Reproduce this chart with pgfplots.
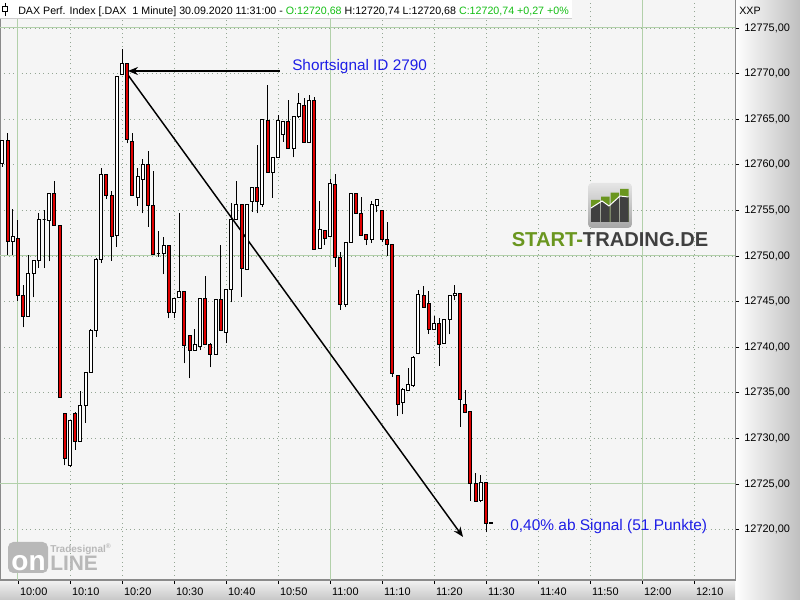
\documentclass[border=0pt]{standalone}
\usepackage{pgfplots}
\pgfplotsset{compat=1.18}
\usepackage{pgfplotstable}
\usetikzlibrary{arrows.meta}
\usepackage{fontspec}
\setmainfont{Liberation Sans}
\definecolor{plotbg}{HTML}{F5F5F5}
\definecolor{gridgreen}{HTML}{B2D0AA}
\definecolor{griddot}{HTML}{94A694}
\definecolor{candlered}{HTML}{E00000}
\definecolor{axgray}{HTML}{8A8A8A}
\definecolor{annblue}{RGB}{30,30,230}
\definecolor{hdrgreen}{RGB}{20,190,20}
\definecolor{logogreen}{HTML}{6A961F}
\definecolor{logogray}{HTML}{404040}
\definecolor{tsgray}{HTML}{B8B8B8}

% pt per price unit: 435pt / (12778.07-12714.47) = 6.83962
\pgfdeclareplotmark{candle}{%
  \pgfmathsetmacro{\wlx}{\wl}%
  \pgfmathsetmacro{\whx}{\wh}%
  \pgfmathsetmacro{\bhx}{\bh}%
  \pgfsetstrokecolor{black}\pgfsetlinewidth{0.75pt}%
  \pgfpathmoveto{\pgfpoint{0pt}{\wlx pt}}\pgfpathlineto{\pgfpoint{0pt}{\whx pt}}%
  \pgfusepathqstroke
  \ifdim\bhx pt<0pt \pgfsetfillcolor{candlered}\else\pgfsetfillcolor{white}\fi
  \pgfpathrectangle{\pgfpoint{-1.125pt}{0pt}}{\pgfpoint{2.25pt}{\bhx pt}}%
  \pgfusepathqfillstroke
}

\pgfplotstableread{
t O H L C
-3 12760.18 12762.62 12759.80 12762.62
-2 12762.62 12763.54 12750.12 12751.59
-1 12751.59 12755.13 12750.12 12752.10
0 12751.95 12753.96 12745.08 12745.67
1 12745.67 12746.80 12742.16 12743.40
2 12743.40 12750.10 12743.40 12748.11
3 12748.11 12749.54 12745.45 12749.54
4 12749.54 12754.69 12748.66 12754.04
5 12754.04 12755.06 12748.66 12754.04
6 12753.89 12756.89 12749.40 12756.89
7 12756.89 12758.24 12753.38 12753.38
8 12753.38 12753.38 12734.52 12734.52
9 12732.69 12732.69 12727.03 12727.83
10 12727.03 12732.00 12726.84 12732.00
11 12732.69 12732.84 12728.74 12729.69
12 12729.69 12735.21 12729.69 12733.57
13 12733.57 12737.26 12731.74 12737.26
14 12737.26 12741.97 12737.26 12741.79
15 12741.79 12749.80 12741.17 12749.65
16 12749.65 12759.63 12749.21 12758.97
17 12758.97 12758.97 12756.23 12756.63
18 12756.63 12757.14 12749.50 12752.13
19 12752.24 12769.73 12751.00 12769.73
20 12769.85 12772.66 12769.85 12771.13
21 12771.13 12771.13 12762.35 12762.72
22 12762.54 12763.45 12756.58 12756.58
23 12756.43 12759.61 12755.52 12758.70
24 12758.41 12760.64 12754.68 12760.05
25 12760.05 12761.51 12753.22 12755.59
26 12755.59 12759.32 12750.11 12750.11
27 12750.29 12752.74 12749.93 12750.29
28 12750.29 12752.12 12747.99 12751.20
29 12751.13 12751.13 12743.17 12743.82
30 12743.82 12745.29 12743.17 12745.29
31 12745.47 12754.68 12745.47 12746.13
32 12746.13 12746.13 12738.23 12740.13
33 12741.23 12741.23 12736.59 12739.69
34 12739.69 12741.96 12739.69 12740.24
35 12740.10 12745.36 12739.69 12745.36
36 12745.36 12747.81 12740.31 12740.31
37 12740.31 12740.50 12737.79 12739.15
38 12739.15 12745.25 12739.15 12745.25
39 12745.25 12751.20 12741.88 12741.88
40 12741.63 12746.35 12740.42 12746.35
41 12746.35 12755.85 12744.92 12754.02
42 12754.02 12758.22 12754.02 12755.67
43 12755.67 12755.67 12745.54 12748.65
44 12748.55 12755.67 12748.46 12755.67
45 12755.96 12757.53 12754.86 12757.53
46 12757.53 12762.17 12754.68 12755.96
47 12755.67 12764.99 12755.40 12764.99
48 12764.90 12768.75 12759.17 12759.17
49 12759.17 12760.82 12756.40 12760.82
50 12760.82 12765.46 12760.82 12764.91
51 12763.34 12764.80 12762.54 12764.80
52 12764.80 12767.10 12761.81 12761.81
53 12761.81 12765.28 12760.82 12765.28
54 12765.28 12767.84 12765.10 12766.74
55 12766.45 12767.29 12762.46 12762.46
56 12762.46 12767.65 12762.46 12767.10
57 12767.10 12767.47 12750.66 12750.66
58 12750.84 12756.03 12750.84 12752.92
59 12752.78 12752.78 12751.21 12751.94
60 12752.12 12758.41 12752.12 12757.97
61 12757.86 12758.96 12748.83 12749.85
62 12749.85 12750.48 12744.08 12744.70
63 12744.70 12751.50 12744.37 12751.50
64 12751.50 12756.90 12751.50 12756.80
65 12756.80 12756.80 12754.68 12754.68
66 12754.68 12756.50 12752.20 12752.20
67 12752.41 12752.41 12751.20 12751.76
68 12751.76 12756.07 12751.40 12755.60
69 12755.52 12756.14 12754.79 12756.14
70 12755.04 12755.04 12751.50 12751.76
71 12751.80 12753.69 12750.00 12751.28
72 12751.28 12751.28 12736.77 12737.13
73 12736.88 12736.88 12732.49 12733.73
74 12733.92 12735.50 12732.64 12735.31
75 12735.23 12737.68 12735.20 12735.93
76 12735.78 12739.00 12735.67 12738.89
77 12739.33 12746.27 12739.22 12745.80
78 12745.72 12746.71 12744.37 12744.37
79 12744.81 12746.16 12741.45 12741.89
80 12741.89 12743.42 12741.89 12742.62
81 12742.62 12743.24 12737.97 12740.32
82 12740.42 12743.05 12740.42 12743.05
83 12743.05 12745.65 12741.41 12745.65
84 12745.65 12746.82 12745.17 12745.90
85 12745.90 12745.90 12731.29 12734.21
86 12733.73 12735.30 12732.86 12732.86
87 12733.00 12733.00 12723.13 12725.07
88 12725.07 12726.24 12723.13 12723.13
89 12723.24 12725.98 12722.99 12725.15
90 12725.15 12725.15 12719.70 12720.68
91 12720.68 12720.74 12720.68 12720.74
}\candles

\begin{document}
\begin{tikzpicture}
\path[use as bounding box] (0,0) rectangle (600pt,450pt);
% side panels
\shade[left color=white, right color=black!25] (551.25pt,0pt) rectangle (600pt,450pt);
\shade[top color=black!5, bottom color=black!22] (0pt,0pt) rectangle (551.25pt,15pt);
\begin{axis}[
  at={(0pt,15pt)}, anchor=south west,
  scale only axis, width=551.25pt, height=435pt,
  xmin=-3.4615, xmax=137.885, ymin=12714.47, ymax=12778.07,
  axis background/.style={fill=plotbg},
  axis line style={draw=axgray, line width=0.75pt},
  xtick={0,10,...,130},
  xticklabels={10:00,10:10,10:20,10:30,10:40,10:50,11:00,11:10,11:20,11:30,11:40,11:50,12:00,12:10},
  ytick={12720,12725,...,12775},
  minor y tick num=4,
  xtick pos=bottom, ytick pos=right,
  yticklabel pos=right,
  tick align=outside,
  major tick length=3pt, minor tick length=3pt,
  tick style={black, line width=0.6pt},
  scaled y ticks=false,
  tick label style={font=\fontsize{8.2}{10}\selectfont, text=black},
  yticklabel style={xshift=0.5pt, /pgf/number format/.cd, fixed, fixed zerofill, precision=2, use comma, 1000 sep={}, assume math mode=true},
  xticklabel style={anchor=north west, xshift=-2pt, yshift=1pt},
  grid=major,
  major grid style={griddot, line width=0.75pt, dash pattern=on 0.75pt off 2.5pt},
  extra x ticks={0,60,120}, extra x tick labels={},
  extra x tick style={grid=major, major grid style={gridgreen, solid, line width=0.75pt}, major tick length=0pt},
  extra y ticks={12725,12750,12775}, extra y tick labels={},
  extra y tick style={grid=major, major grid style={gridgreen, solid, line width=0.75pt}, major tick length=0pt},
]
\addplot[only marks, mark=candle,
  visualization depends on={(\thisrow{L}-\thisrow{O})*6.83962 \as \wl},
  visualization depends on={(\thisrow{H}-\thisrow{O})*6.83962 \as \wh},
  visualization depends on={(\thisrow{C}-\thisrow{O})*6.83962 \as \bh},
] table[x=t, y=O] {\candles};
\draw[-{Stealth[length=7.5pt,width=6pt]}, line width=1.1pt] (axis cs:50.38,12770.285) -- (axis cs:21.15,12770.285);
\draw[-{Stealth[length=7.5pt,width=6pt]}, line width=1.1pt] (axis cs:21.15,12769.85) -- (axis cs:85.58,12719.19);
\end{axis}
\begin{scope}[x=0.75pt,y=-0.75pt,yshift=450pt]
  % header
  \fill[white] (0,0) rectangle (572,18);
  \draw[black!20, line width=0.75pt] (0,18.3) -- (572,18.3);
  \draw[black, line width=0.75pt] (5,3) -- (5,16);
  \filldraw[fill=white, draw=black, line width=0.75pt] (2.5,7) rectangle (7.5,12);
  \node[anchor=base west, inner sep=0pt, font=\fontsize{8}{10}\selectfont] at (18,15)
    {DAX Perf. Index [.DAX\ \ 1 Minute] 30.09.2020 11:31:00 - \textcolor{hdrgreen}{O:12720,68} H:12720,74 L:12720,68 \textcolor{hdrgreen}{C:12720,74 +0,27 +0\%}};
  \node[anchor=base west, inner sep=0pt, font=\fontsize{8}{10}\selectfont] at (739,15) {XXP};
  % annotations
  \node[anchor=west, inner sep=0pt, text=annblue, font=\fontsize{11.5}{13}\selectfont] at (292,67) {Shortsignal ID 2790};
  \node[anchor=west, inner sep=0pt, text=annblue, font=\fontsize{11.6}{13}\selectfont] at (510,527) {0,40\% ab Signal (51 Punkte)};
  % start-trading logo
  \shade[rounded corners=3pt, top color=black!10, bottom color=black!35] (588,183) rectangle (632,228);
  \begin{scope}
    \clip (591,200) rectangle (600,222) (601,196.7) rectangle (609.5,222) (610.5,192.7) rectangle (619,222) (620,189) rectangle (628.5,222);
    \fill[logogreen] (585,185) rectangle (635,225);
    \fill[logogray] (585,208) -- (591,208) -- (602,201) -- (609,206) -- (620,196) -- (629,197) -- (635,197) -- (635,225) -- (585,225) -- cycle;
  \end{scope}
  \draw[white, line width=0.75pt] (591,208) -- (602,201) -- (609,206) -- (620,196) -- (628.5,197);
  \node[anchor=base, inner sep=0pt, font=\bfseries\fontsize{15.1}{17}\selectfont] at (610,246.7)
    {\textcolor{logogreen}{START-}\textcolor{logogray}{TRADING.DE}};
  % tradesignal online logo
  \fill[tsgray, rounded corners=4pt] (8,542) rectangle (48,573);
  \node[anchor=base, inner sep=0pt, text=white, font=\bfseries\fontsize{21}{21}\selectfont] at (28.5,570) {on};
  \node[anchor=base west, inner sep=0pt, text=tsgray, font=\bfseries\fontsize{15.7}{16}\selectfont] at (50,570) {LINE};
  \node[anchor=base west, inner sep=0pt, text=tsgray, font=\bfseries\fontsize{7.5}{8}\selectfont] at (50,553) {Tradesignal\textsuperscript{\tiny\textregistered}};
\end{scope}
\end{tikzpicture}
\end{document}
